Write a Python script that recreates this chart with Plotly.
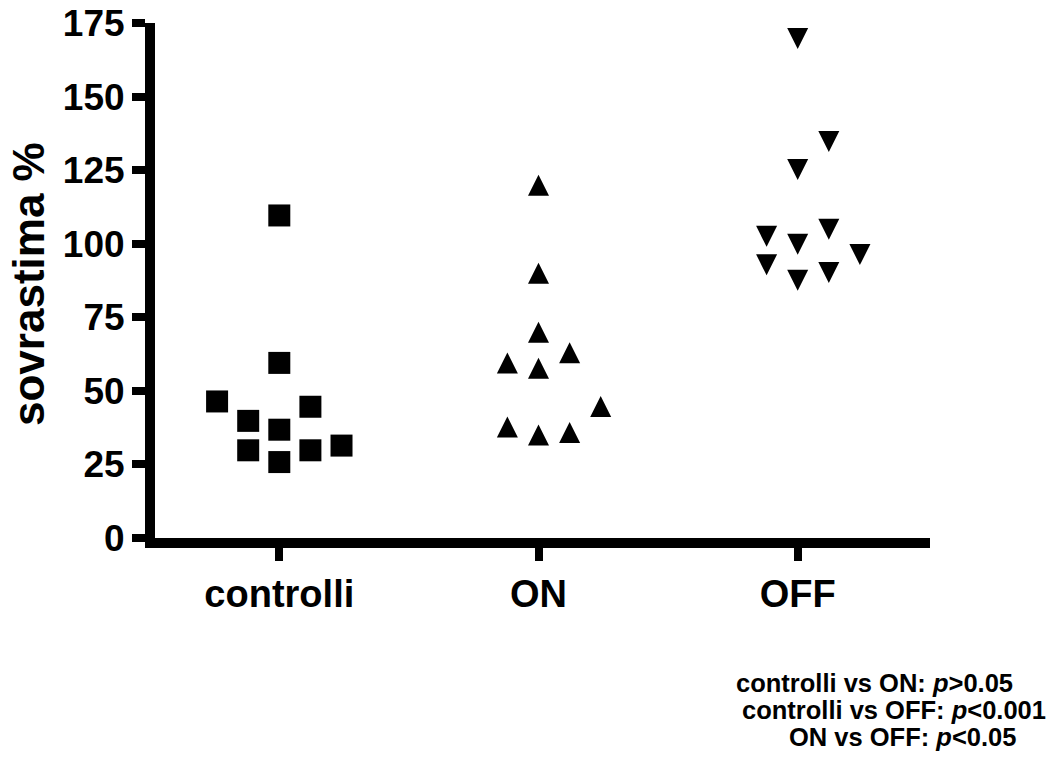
import plotly.graph_objects as go

# ---- data ----
categories = ["controlli", "ON", "OFF"]

controlli_values = [109.6, 59.5, 46.4, 44.6, 39.8, 36.8, 29.8, 29.8, 31.4, 25.8]
controlli_slots = [0, 0, -2, 1, -1, 0, -1, 1, 2, 0]

on_values = [118.7, 88.8, 68.7, 61.8, 58.3, 56.5, 43.5, 36.5, 34.7, 33.8]
on_slots = [0, 0, 0, 1, -1, 0, 2, -1, 1, 0]

off_values = [170.9, 135.9, 126.4, 106.1, 103.7, 101.0, 97.5, 94.0, 91.4, 88.8]
off_slots = [0, 1, 0, 1, -1, 0, 2, -1, 1, 0]

y_ticks = [0, 25, 50, 75, 100, 125, 150, 175]
y_title = "sovrastima %"
stats_lines = [
    "controlli vs ON: <i>p</i>>0.05",
    "controlli vs OFF: <i>p</i><0.001",
    "ON vs OFF: <i>p</i><0.05",
]

# ---- layout geometry ----
W, H = 1055, 758
LW = 10
ML, MR, MT, MB = 150 + LW / 2, 125, 23, 220
PW, PH = W - ML - MR, H - MT - MB
SLOT = 0.12
FONT = "Liberation Sans, Arial, sans-serif"


def xs(group, slots):
    return [group + s * SLOT for s in slots]


MS = 21
fig = go.Figure()
fig.add_trace(go.Scatter(
    x=xs(0, controlli_slots), y=controlli_values, mode="markers",
    marker=dict(symbol="square", size=22, color="black", line=dict(width=0)),
    showlegend=False, hoverinfo="y"))
fig.add_trace(go.Scatter(
    x=xs(1, on_slots), y=on_values, mode="markers",
    marker=dict(symbol="arrow-down", angle=180, standoff=MS * 2 / 3, size=MS,
                color="black", line=dict(width=0)),
    showlegend=False, hoverinfo="y"))
fig.add_trace(go.Scatter(
    x=xs(2, off_slots), y=off_values, mode="markers",
    marker=dict(symbol="arrow-down", angle=0, standoff=MS * 2 / 3, size=MS,
                color="black", line=dict(width=0)),
    showlegend=False, hoverinfo="y"))

x0_px, x2_px = 279.3, 797.7
unit = (x2_px - x0_px) / 2
xr = [-(x0_px - ML) / unit, (ML + PW - x0_px) / unit]


def px_to_paper_x(px):
    return (px - ML) / PW


def py_to_paper_y(py):
    return (MT + PH - py) / PH


annotations = [dict(
    text=f"<b>{y_title}</b>", x=px_to_paper_x(28), y=py_to_paper_y(284),
    xref="paper", yref="paper",
    xanchor="center", yanchor="middle", textangle=-90, showarrow=False,
    font=dict(family=FONT, size=44, color="black"))]

line_pos = [(874, 683), (894, 709.5), (902.5, 737)]
for txt, (cx, cy) in zip(stats_lines, line_pos):
    annotations.append(dict(
        text=f"<b>{txt}</b>", x=px_to_paper_x(cx), y=py_to_paper_y(cy),
        xref="paper", yref="paper", xanchor="center", yanchor="middle",
        showarrow=False, font=dict(family=FONT, size=25.5, color="black")))

axis_common = dict(
    showline=True, linewidth=LW, linecolor="black",
    ticks="outside", ticklen=13, tickwidth=8, tickcolor="black",
    showgrid=False, zeroline=False, automargin=False)

fig.update_layout(
    width=W, height=H, autosize=False,
    margin=dict(l=ML, r=MR, t=MT, b=MB, pad=0, autoexpand=False),
    paper_bgcolor="white", plot_bgcolor="white",
    xaxis=dict(
        range=xr, tickmode="array", tickvals=[0, 1, 2], ticktext=categories,
        tickfont=dict(family=FONT, size=38, color="black", weight="bold"),
        **axis_common),
    yaxis=dict(
        range=[0, 175], tickmode="array", tickvals=y_ticks,
        tickfont=dict(family=FONT, size=37, color="black", weight="bold"),
        **axis_common),
    annotations=annotations,
)

fig.write_html("out.html")
